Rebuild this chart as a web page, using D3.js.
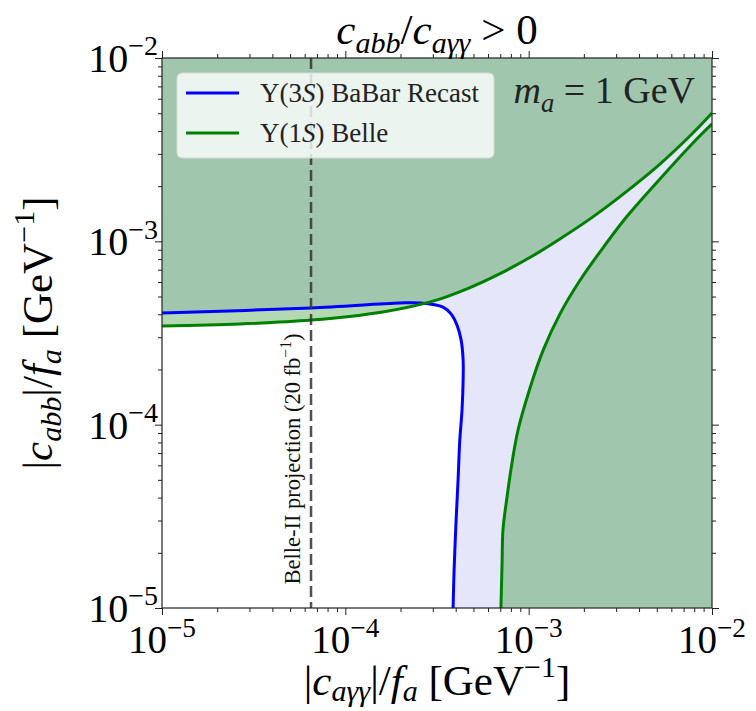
<!DOCTYPE html>
<html>
<head>
<meta charset="utf-8">
<script src="https://cdn.jsdelivr.net/npm/d3@7"></script>
<style>
	body { margin: 0; background: white; }
	svg { font-family: "Liberation Serif", "DejaVu Serif", serif; }
</style>
</head>
<body>
<svg id="chart" width="756" height="711"></svg>
<script>
// values (|c_agg|/f_a , |c_abb|/f_a in GeV^-1)
const babarX = [1.0e-5, 6.5e-5, 1.99e-4, 2.55e-4, 3.41e-4, 3.77e-4, 4.06e-4, 4.28e-4, 4.39e-4, 4.39e-4, 4.33e-4, 4.21e-4, 4.12e-4, 4.02e-4, 3.92e-4, 3.87e-4];
const babarY = [4.06e-4, 4.33e-4, 4.61e-4, 4.61e-4, 4.38e-4, 4.02e-4, 3.50e-4, 2.90e-4, 2.25e-4, 1.75e-4, 1.20e-4, 8.24e-5, 4.99e-5, 3.02e-5, 1.61e-5, 1.0e-5];

const belleUpperX = [1.0e-5, 2.66e-5, 6.5e-5, 1.60e-4, 3.01e-4, 4.61e-4, 6.98e-4, 1.06e-3, 1.48e-3, 2.24e-3, 3.44e-3, 5.20e-3, 7.87e-3, 1.0e-2];
const belleUpperY = [3.45e-4, 3.54e-4, 3.72e-4, 4.12e-4, 4.72e-4, 5.51e-4, 6.67e-4, 8.37e-4, 1.03e-3, 1.36e-3, 1.88e-3, 2.64e-3, 3.90e-3, 5.01e-3];

const belleLowerX = [7.06e-4, 7.16e-4, 7.24e-4, 7.62e-4, 8.11e-4, 8.75e-4, 1.02e-3, 1.20e-3, 1.48e-3, 1.91e-3, 2.61e-3, 3.44e-3, 5.20e-3, 7.87e-3, 1.0e-2];
const belleLowerY = [1.0e-5, 1.76e-5, 2.66e-5, 4.03e-5, 6.18e-5, 9.35e-5, 1.60e-4, 2.55e-4, 4.01e-4, 6.15e-4, 9.55e-4, 1.37e-3, 2.19e-3, 3.44e-3, 4.37e-3];

const belle2X = 6.5e-5;
const domainX = [1e-5, 1e-2];
const domainY = [1e-5, 1e-2];
const majorTicks = [1e-5, 1e-4, 1e-3, 1e-2];
const tickExp = ["−5", "−4", "−3", "−2"];
const legendNames = [
	[["Υ(3", ""], ["S", "i"], [") BaBar Recast", ""]],
	[["Υ(1", ""], ["S", "i"], [") Belle", ""]],
];
const legendColors = ["blue", "green"];

const margin = { left: 162, top: 58, right: 712, bottom: 608 };
const svg = d3.select("#chart");

const x = d3.scaleLog(domainX, [margin.left, margin.right]);
const y = d3.scaleLog(domainY, [margin.bottom, margin.top]);

const minorTicks = [];
for (let d of [1e-5, 1e-4, 1e-3]) {
	for (let k = 2; k <= 9; k++) minorTicks.push(k * d);
}

// write text with italic / sub / sup pieces
function rich(textSel, parts, size, subShift = 0.24) {
	let shift = 0;
	for (let [str, kind] of parts) {
		const small = kind.includes("sub") || kind.includes("sup");
		const target = kind.includes("sub") ? subShift * size : kind.includes("sup") ? -0.42 * size : 0;
		textSel
			.append("tspan")
			.attr("dy", target - shift)
			.style("font-style", kind.includes("i") ? "italic" : "normal")
			.style("font-size", (small ? 0.7 * size : size) + "px")
			.text(str);
		shift = target;
	}
}

const pts = (xs, ys) => xs.map((v, i) => [x(v), y(ys[i])]);
const line = d3.line().curve(d3.curveCatmullRom.alpha(0.5));

const babarPts = pts(babarX, babarY);
const upperPts = pts(belleUpperX, belleUpperY);
const lowerPts = pts(belleLowerX, belleLowerY);

svg.append("clipPath").attr("id", "plotclip")
	.append("rect")
	.attr("x", margin.left).attr("y", margin.top)
	.attr("width", margin.right - margin.left)
	.attr("height", margin.bottom - margin.top);

const plot = svg.append("g").attr("clip-path", "url(#plotclip)");

// BaBar excluded region
plot.append("path")
	.attr("d", line(babarPts) + `L${x(1e-2)},${y(1e-5)}L${x(1e-2)},${y(1e-2)}L${x(1e-5)},${y(1e-2)}Z`)
	.attr("fill", "lavender");

// Belle excluded regions
plot.append("path")
	.attr("d", line(upperPts) + `L${x(1e-2)},${y(1e-2)}L${x(1e-5)},${y(1e-2)}Z`)
	.attr("fill", "green")
	.attr("fill-opacity", 0.3);
plot.append("path")
	.attr("d", line(lowerPts) + `L${x(1e-2)},${y(1e-5)}Z`)
	.attr("fill", "green")
	.attr("fill-opacity", 0.3);

plot.append("path")
	.attr("d", line(babarPts))
	.attr("fill", "none")
	.attr("stroke", "blue")
	.attr("stroke-width", 3);
for (let p of [upperPts, lowerPts]) {
	plot.append("path")
		.attr("d", line(p))
		.attr("fill", "none")
		.attr("stroke", "green")
		.attr("stroke-width", 3);
}

// Belle-II projection
plot.append("line")
	.attr("x1", x(belle2X)).attr("x2", x(belle2X))
	.attr("y1", margin.top).attr("y2", margin.bottom)
	.attr("stroke", "#333")
	.attr("stroke-opacity", 0.85)
	.attr("stroke-width", 2.5)
	.attr("stroke-dasharray", "11,5");

const b2 = svg.append("text")
	.attr("transform", `translate(${x(belle2X) - 11},${y(6.5e-5)}) rotate(-90)`)
	.attr("text-anchor", "middle")
	.attr("fill", "#111");
rich(b2, [["Belle-II projection (20 fb", ""], ["−1", "sup"], [")", ""]], 22.5);

// legend
const legend = svg.append("g").attr("transform", "translate(177,73)");
legend.append("rect")
	.attr("width", 317).attr("height", 85)
	.attr("rx", 5)
	.attr("fill", "white").attr("fill-opacity", 0.8)
	.attr("stroke", "#d8d8d8");
legendNames.forEach((parts, i) => {
	legend.append("line")
		.attr("x1", 9).attr("x2", 62)
		.attr("y1", 20 + i * 40).attr("y2", 20 + i * 40)
		.attr("stroke", legendColors[i])
		.attr("stroke-width", 3);
	const t = legend.append("text")
		.attr("x", 83).attr("y", 29 + i * 40)
		.attr("fill", "#222");
	rich(t, parts, 27);
});

// m_a label
const ma = svg.append("text")
	.attr("x", 695).attr("y", 103)
	.attr("text-anchor", "end")
	.attr("fill", "#222");
rich(ma, [["m", "i"], ["a", "isub"], [" = 1 GeV", ""]], 38);

// axes
function tickAxis(axisFn, translate) {
	const g = svg.append("g").attr("transform", translate);
	g.call(axisFn.tickValues(majorTicks).tickSize(7).tickFormat(""));
	g.select(".domain").remove();
	const g2 = svg.append("g").attr("transform", translate);
	g2.call(axisFn.tickValues(minorTicks).tickSize(4).tickFormat(""));
	g2.select(".domain").remove();
	svg.selectAll(".tick line").attr("stroke", "#222");
}
tickAxis(d3.axisBottom(x), `translate(0,${margin.bottom})`);
tickAxis(d3.axisTop(x), `translate(0,${margin.top})`);
tickAxis(d3.axisLeft(y), `translate(${margin.left},0)`);
tickAxis(d3.axisRight(y), `translate(${margin.right},0)`);

svg.append("rect")
	.attr("x", margin.left).attr("y", margin.top)
	.attr("width", margin.right - margin.left)
	.attr("height", margin.bottom - margin.top)
	.attr("fill", "none")
	.attr("stroke", "#222")
	.attr("stroke-width", 1.2);

majorTicks.forEach((v, i) => {
	const tx = svg.append("text")
		.attr("x", x(v)).attr("y", margin.bottom + 45)
		.attr("text-anchor", "middle");
	rich(tx, [["10", ""], [tickExp[i], "sup"]], 39);
	const ty = svg.append("text")
		.attr("x", margin.left - 4).attr("y", y(v) + 14)
		.attr("text-anchor", "end");
	rich(ty, [["10", ""], [tickExp[i], "sup"]], 40);
});

// axis titles
const xl = svg.append("text")
	.attr("x", (margin.left + margin.right) / 2).attr("y", 695)
	.attr("text-anchor", "middle");
rich(xl, [["|", ""], ["c", "i"], ["aγγ", "isub"], ["|/", ""], ["f", "i"], ["a", "isub"], [" [GeV", ""], ["−1", "sup"], ["]", ""]], 43, 0.15);

const yl = svg.append("text")
	.attr("transform", `translate(52,${(margin.top + margin.bottom) / 2}) rotate(-90)`)
	.attr("text-anchor", "middle");
rich(yl, [["|", ""], ["c", "i"], ["abb", "isub"], ["|/", ""], ["f", "i"], ["a", "isub"], [" [GeV", ""], ["−1", "sup"], ["]", ""]], 43, 0.2);

const title = svg.append("text")
	.attr("x", (margin.left + margin.right) / 2).attr("y", 44)
	.attr("text-anchor", "middle");
rich(title, [["c", "i"], ["abb", "isub"], ["/", ""], ["c", "i"], ["aγγ", "isub"], [" > 0", ""]], 43, 0.2);
</script>
</body>
</html>
